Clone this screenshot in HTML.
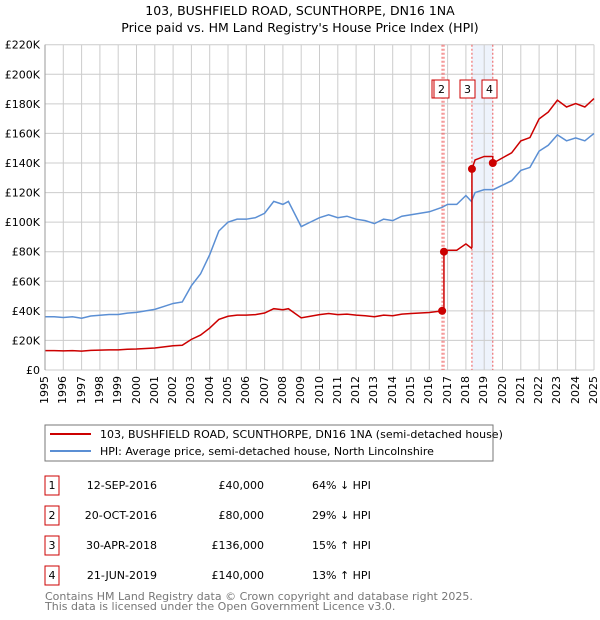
<!DOCTYPE html>
<html><head><meta charset="utf-8"><style>
body{margin:0;background:#fff;font-family:"Liberation Sans","DejaVu Sans",sans-serif;}
svg text{font-family:"DejaVu Sans","Liberation Sans",sans-serif;}
#wrap{position:relative;width:600px;height:620px;}
.xl{position:absolute;top:376px;width:14px;line-height:14px;font-size:11px;font-family:"DejaVu Sans","Liberation Sans",sans-serif;writing-mode:vertical-rl;transform:rotate(180deg);white-space:nowrap;}
</style></head><body>
<div id="wrap">
<svg width="600" height="620" xmlns="http://www.w3.org/2000/svg" style="position:absolute;left:0;top:0">
<text x="300" y="15" text-anchor="middle" font-size="12.5">103, BUSHFIELD ROAD, SCUNTHORPE, DN16 1NA</text>
<text x="300" y="32" text-anchor="middle" font-size="12.5">Price paid vs. HM Land Registry's House Price Index (HPI)</text>
<g id="plot"></g>
<rect x="45" y="425" width="448" height="36" fill="#fff" stroke="#777"/>
<line x1="50" y1="434" x2="91" y2="434" stroke="#cc0000" stroke-width="2"/>
<text x="100" y="438" font-size="11">103, BUSHFIELD ROAD, SCUNTHORPE, DN16 1NA (semi-detached house)</text>
<line x1="50" y1="451" x2="91" y2="451" stroke="#5b8fd4" stroke-width="2"/>
<text x="100" y="455" font-size="11">HPI: Average price, semi-detached house, North Lincolnshire</text>
<g id="table" font-size="11"></g>
<text x="45" y="600" font-size="11" fill="#777">Contains HM Land Registry data © Crown copyright and database right 2025.</text>
<text x="45" y="610" font-size="11" fill="#777">This data is licensed under the Open Government Licence v3.0.</text>
</svg>
<div id="xlabels"></div>
</div>
<script>
const hpiYears=[1995,1995.5,1996,1996.5,1997,1997.5,1998,1998.5,1999,1999.5,2000,2000.5,2001,2001.5,2002,2002.5,2003,2003.5,2004,2004.5,2005,2005.5,2006,2006.5,2007,2007.5,2008,2008.3,2009,2009.5,2010,2010.5,2011,2011.5,2012,2012.5,2013,2013.5,2014,2014.5,2015,2015.5,2016,2016.7,2017,2017.5,2018,2018.3,2018.5,2019,2019.5,2020,2020.5,2021,2021.5,2022,2022.5,2023,2023.5,2024,2024.5,2025];
const hpiValues=[36,36,35.5,36,35,36.5,37,37.5,37.5,38.5,39,40,41,43,45,46,57,65,78,94,100,102,102,103,106,114,112,114,97,100,103,105,103,104,102,101,99,102,101,104,105,106,107,110,112,112,118,114,120,122,122,125,128,135,137,148,152,159,155,157,155,160];
const saleDates=[2016.70,2016.80,2018.33,2019.47];
const salePrices=[40,80,136,140];
const saleLabels=["1","2","3","4"];
const saleDateText=["12-SEP-2016","20-OCT-2016","30-APR-2018","21-JUN-2019"];
const salePriceText=["£40,000","£80,000","£136,000","£140,000"];
const saleHpiText=["64% ↓ HPI","29% ↓ HPI","15% ↑ HPI","13% ↑ HPI"];
const yTicks=[0,20,40,60,80,100,120,140,160,180,200,220];
const NS="http://www.w3.org/2000/svg";
const X0=45,X1=594,Y0=370,Y1=44.7;
const sx=y=>X0+(y-1995)/(2025-1995)*(X1-X0);
const sy=v=>Y0-v/220*(Y0-Y1);
const plot=document.getElementById('plot');
function mk(t,a,p){const e=document.createElementNS(NS,t);for(const k in a)e.setAttribute(k,a[k]);(p||plot).appendChild(e);return e;}
function hpiAt(t){for(let i=0;i<hpiYears.length-1;i++){if(t<=hpiYears[i+1]){const f=(t-hpiYears[i])/(hpiYears[i+1]-hpiYears[i]);return hpiValues[i]+f*(hpiValues[i+1]-hpiValues[i]);}}return hpiValues[hpiValues.length-1];}
const sh=mk('rect',{x:sx(saleDates[2]),y:Y1,width:sx(saleDates[3])-sx(saleDates[2]),height:Y0-Y1,fill:'#eef3fc'});


const xl=document.getElementById('xlabels');
for(let y=1995;y<=2025;y++){const l=mk('line',{x1:sx(y),x2:sx(y),y1:Y1,y2:Y0,stroke:'#cccccc'});


const d=document.createElement('div');d.className='xl';d.style.left=(sx(y)-7)+'px';d.textContent=y;


xl.appendChild(d);}
yTicks.forEach(v=>{const l=mk('line',{x1:X0,x2:X1,y1:sy(v),y2:sy(v),stroke:'#cccccc'});


const t=mk('text',{x:40,y:sy(v)+4,'font-size':11,'text-anchor':'end'});t.textContent=v===0?'£0':'£'+v+'K';

});
saleDates.forEach((d,i)=>{const l=mk('line',{x1:sx(d),x2:sx(d),y1:Y1,y2:Y0,stroke:'#ee5555','stroke-dasharray':'2,2','stroke-width':1});

});
const hp=mk('polyline',{points:hpiYears.map((y,i)=>sx(y)+','+sy(hpiValues[i])).join(' '),fill:'none',stroke:'#5b8fd4','stroke-width':1.5});


let pts=[];
const ts=[...hpiYears,...saleDates].sort((a,b)=>a-b);
ts.forEach(t=>{let si=-1;saleDates.forEach((d,i)=>{if(t>=d)si=i;});
if(saleDates.includes(t)&&si>0){const pr=salePrices[si-1]/hpiAt(saleDates[si-1]);pts.push(sx(t)+','+sy(hpiAt(t)*pr));}
const r=si<0?salePrices[0]/hpiAt(saleDates[0]):salePrices[si]/hpiAt(saleDates[si]);pts.push(sx(t)+','+sy(hpiAt(t)*r));});
const rl=mk('polyline',{points:pts.join(' '),fill:'none',stroke:'#cc0000','stroke-width':1.5});


saleDates.forEach((d,i)=>{const c=mk('circle',{cx:sx(d),cy:sy(salePrices[i]),r:4,fill:'#cc0000'});

});
const lblX=[432,434,460,482];
saleDates.forEach((d,i)=>{const g=mk('g',{});


mk('rect',{x:lblX[i],y:80,width:15,height:18,fill:'#fff',stroke:'#cc0000'},g);
const t=mk('text',{x:lblX[i]+7.5,y:93,'font-size':11,'text-anchor':'middle'},g);t.textContent=saleLabels[i];});
mk('line',{x1:X0,x2:X0,y1:Y1,y2:Y0,stroke:'#999'});
const tb=document.getElementById('table');
saleLabels.forEach((s,i)=>{const y=489+30*i;
const r=mk('rect',{x:45,y:y-13,width:14,height:19,fill:'#fff',stroke:'#cc0000'},tb);


const a=mk('text',{x:52,y:y,'text-anchor':'middle'},tb);a.textContent=s;
const b=mk('text',{x:157,y:y,'text-anchor':'end'},tb);b.textContent=saleDateText[i];


const c=mk('text',{x:264,y:y,'text-anchor':'end'},tb);c.textContent=salePriceText[i];


const e=mk('text',{x:312,y:y},tb);e.textContent=saleHpiText[i];

});
</script>
</body></html>
